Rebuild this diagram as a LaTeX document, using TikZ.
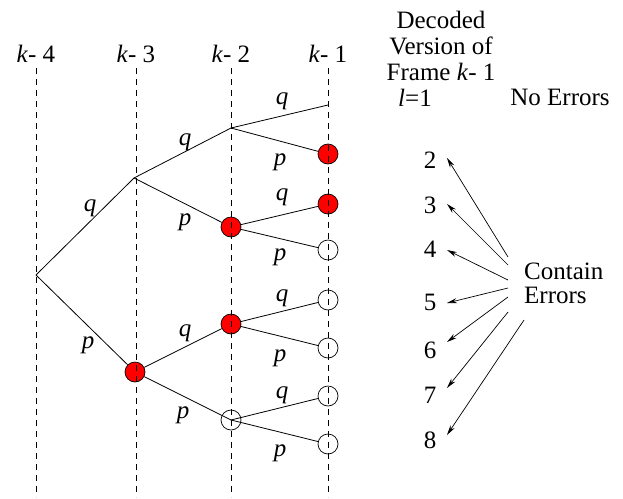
\documentclass[tikz,border=0pt]{standalone}
\usepackage{fontspec}
\setmainfont{Liberation Serif}
\usetikzlibrary{arrows.meta}
\begin{document}
\begin{tikzpicture}[x=1pt,y=-1pt,
  txt/.style={font=\fontsize{25}{26}\selectfont, inner sep=0pt},
  lab/.style={font=\fontsize{25}{26}\selectfont\itshape, inner sep=0pt},
  guide/.style={draw, dash pattern=on 6pt off 5pt, line width=0.8pt},
  edge/.style={draw, line width=0.8pt},
  err/.style={circle, draw, fill=red, minimum size=20pt, inner sep=0pt, line width=0.7pt},
  okc/.style={circle, draw, minimum size=20pt, inner sep=0pt, line width=0.7pt},
  arr/.style={draw, line width=0.7pt, -{Stealth[length=10pt,width=5pt]}}]
\useasboundingbox (0,0) rectangle (623,498);
% column heads
\node[txt] (h4) at (36,54) {\textit{k}- 4};
\node[txt] (h3) at (136,54) {\textit{k}- 3};
\node[txt] (h2) at (231,54) {\textit{k}- 2};
\node[txt] (h1) at (328,54) {\textit{k}- 1};
% tree nodes
\coordinate (r) at (36,275);
\coordinate (a1) at (134,178);
\node[err] (a2) at (135,372) {};
\coordinate (b1) at (231,128);
\node[err] (b2) at (231,227) {};
\node[err] (b3) at (231,324) {};
\node[okc] (b4) at (231,420) {};
\coordinate (c1) at (328,105);
\node[err] (c2) at (328,154) {};
\node[err] (c3) at (328,204) {};
\node[okc] (c4) at (328,250) {};
\node[okc] (c5) at (328,300) {};
\node[okc] (c6) at (328,348) {};
\node[okc] (c7) at (328,396) {};
\node[okc] (c8) at (328,444) {};
% guides
\foreach \x/\n in {36/g4,136/g3,231/g2,328/g1}{
  \coordinate (\n t) at (\x,68);
  \coordinate (\n b) at (\x,497);
  \draw[guide] (\n t) -- (\n b);
}
% edges
\draw[edge] (r) -- (a1);
\draw[edge] (r) -- (a2);
\draw[edge] (a1) -- (b1);
\draw[edge] (a1) -- (b2);
\draw[edge] (a2) -- (b3);
\draw[edge] (a2) -- (b4.center);
\draw[edge] (b1) -- (c1);
\draw[edge] (b1) -- (c2);
\draw[edge] (b2) -- (c3);
\draw[edge] (b2) -- (c4);
\draw[edge] (b3) -- (c5);
\draw[edge] (b3) -- (c6);
\draw[edge] (b4.center) -- (c7);
\draw[edge] (b4.center) -- (c8);
% branch labels
\node[lab] (l1) at (282,101) {q};
\node[lab] (l2) at (185,142) {q};
\node[lab] (l3) at (280,162) {p};
\node[lab] (l4) at (90,208) {q};
\node[lab] (l5) at (282,197) {q};
\node[lab] (l6) at (185,222) {p};
\node[lab] (l7) at (280,257) {p};
\node[lab] (l8) at (282,298) {q};
\node[lab] (l9) at (185,333) {q};
\node[lab] (l10) at (88,345) {p};
\node[lab] (l11) at (280,358) {p};
\node[lab] (l12) at (282,395) {q};
\node[lab] (l13) at (183,415) {p};
\node[lab] (l14) at (280,453) {p};
% right text
\node[txt, align=center] (dec) at (441,46) {Decoded\\Version of\\Frame \textit{k}- 1};
\node[txt] (l1n) at (415,98) {\textit{l}=1};
\node[txt] (noerr) at (560,97) {No Errors};
\node[txt] (n2) at (430,160) {2};
\node[txt] (n3) at (430,205) {3};
\node[txt] (n4) at (430,249) {4};
\node[txt] (n5) at (430,302) {5};
\node[txt] (n6) at (430,350) {6};
\node[txt] (n7) at (430,395) {7};
\node[txt] (n8) at (430,440) {8};
\node[txt, align=left, anchor=west, font=\fontsize{25}{24}\selectfont] (ce) at (524,283) {Contain\\Errors};
% arrows
\coordinate (s2) at (508,257); \coordinate (e2) at (447,158);
\coordinate (s3) at (508,265); \coordinate (e3) at (447,204);
\coordinate (s4) at (508,280); \coordinate (e4) at (447,250);
\coordinate (s5) at (508,288); \coordinate (e5) at (447,303);
\coordinate (s6) at (508,297); \coordinate (e6) at (447,342);
\coordinate (s7) at (508,312); \coordinate (e7) at (447,388);
\coordinate (s8) at (524,320); \coordinate (e8) at (447,435);
\foreach \i in {2,...,8}{\draw[arr] (s\i) -- (e\i);}
\end{tikzpicture}
\end{document}
